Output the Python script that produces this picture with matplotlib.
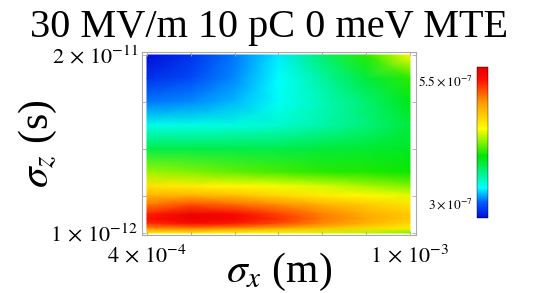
import numpy as np
import matplotlib
matplotlib.use('Agg')
import matplotlib.pyplot as plt
from matplotlib.colors import LinearSegmentedColormap, Normalize

plt.rcParams['font.family'] = 'Liberation Serif'
plt.rcParams['mathtext.fontset'] = 'stix'

# sigma_x (m) columns, sigma_z (s) rows, value grid in units of 1e-7
sigx = np.array([4e-4, 5e-4, 6e-4, 7e-4, 8e-4, 9e-4, 1e-3])
sigz = np.array([2e-11, 1.75e-11, 1.5e-11, 1.25e-11, 1e-11, 7.5e-12, 6e-12,
                 5e-12, 4e-12, 3e-12, 2.5e-12, 2e-12, 1.5e-12, 1e-12])
vals = np.array([
    [2.70, 2.85, 3.07, 3.28, 3.68, 4.05, 4.54],
    [2.85, 2.94, 3.10, 3.31, 3.56, 3.80, 4.05],
    [3.07, 3.10, 3.19, 3.34, 3.50, 3.68, 3.89],
    [3.37, 3.37, 3.40, 3.43, 3.53, 3.65, 3.80],
    [3.77, 3.77, 3.77, 3.77, 3.80, 3.83, 3.86],
    [4.29, 4.23, 4.17, 4.11, 4.05, 4.02, 3.99],
    [4.66, 4.60, 4.54, 4.47, 4.41, 4.32, 4.23],
    [4.90, 4.90, 4.84, 4.72, 4.60, 4.54, 4.44],
    [5.15, 5.30, 5.21, 5.09, 4.93, 4.78, 4.66],
    [5.45, 5.67, 5.58, 5.33, 5.12, 4.93, 4.78],
    [5.52, 5.70, 5.61, 5.39, 5.15, 4.96, 4.78],
    [5.39, 5.55, 5.45, 5.30, 5.09, 4.90, 4.72],
    [5.09, 5.15, 5.09, 4.96, 4.84, 4.72, 4.60],
    [4.60, 4.60, 4.54, 4.47, 4.41, 4.35, 4.23],
]) * 1e-7
cbar_ticks = [3e-7, 5.5e-7]
cbar_labels = [r'$3\times10^{-7}$', r'$5.5\times10^{-7}$']

cmap = LinearSegmentedColormap.from_list('rainbowish', [
    (0.00, (0.00, 0.05, 0.85)),
    (0.10, (0.00, 0.35, 1.00)),
    (0.20, (0.00, 1.00, 1.00)),
    (0.41, (0.00, 0.90, 0.00)),
    (0.59, (1.00, 1.00, 0.00)),
    (0.76, (1.00, 0.62, 0.00)),
    (0.92, (1.00, 0.05, 0.00)),
    (1.00, (0.90, 0.00, 0.00)),
])
norm = Normalize(vmin=2.70e-7, vmax=5.76e-7)

fig = plt.figure(figsize=(5.38, 2.93), dpi=100)
ax = fig.add_axes([142/538, 1-235/293, 274/538, 183/293])
X, Y = np.meshgrid(sigx, sigz)
mesh = ax.pcolormesh(X, Y, vals, shading='gouraud', cmap=cmap, norm=norm)

ax.set_xlim(3.886e-4, 1.0137e-3)
ax.set_ylim(7.87e-13, 2.032e-11)
ax.set_xticks(np.linspace(4e-4, 1e-3, 7))
ax.set_xticklabels([r'$4\,\times\,10^{-4}$', '', '', '', '', '', r'$1\,\times\,10^{-3}$'])
ax.set_yticks([1e-12, 5e-12, 1e-11, 1.5e-11, 2e-11])
ax.set_yticklabels([r'$1\,\times\,10^{-12}$', '', '', '', r'$2\,\times\,10^{-11}$'])
ax.tick_params(direction='in', length=3, width=0.6, color='#aaaaaa',
               top=True, right=True, labelsize=16, pad=3)
ax.tick_params(axis='x', pad=7)
for s in ax.spines.values():
    s.set_color('#aaaaaa')
    s.set_linewidth(0.8)
ax.set_xlabel(r'$\sigma_x$ (m)', fontsize=30, labelpad=-12)
ax.set_ylabel(r'$\sigma_z$ (s)', fontsize=30, labelpad=-6)

cax = fig.add_axes([477/538, 1-218/293, 11/538, 151/293])
cb = fig.colorbar(mesh, cax=cax)
cb.set_ticks(cbar_ticks)
cb.set_ticklabels(cbar_labels)
cax.yaxis.set_ticks_position('left')
cax.tick_params(length=0, labelsize=9.5, pad=3)
cb.outline.set_linewidth(0.3)

fig.text(0.5, 1 - 27/293, '30 MV/m 10 pC 0 meV MTE', fontsize=29,
         ha='center', va='center')
fig.savefig('out.png', dpi=100)
